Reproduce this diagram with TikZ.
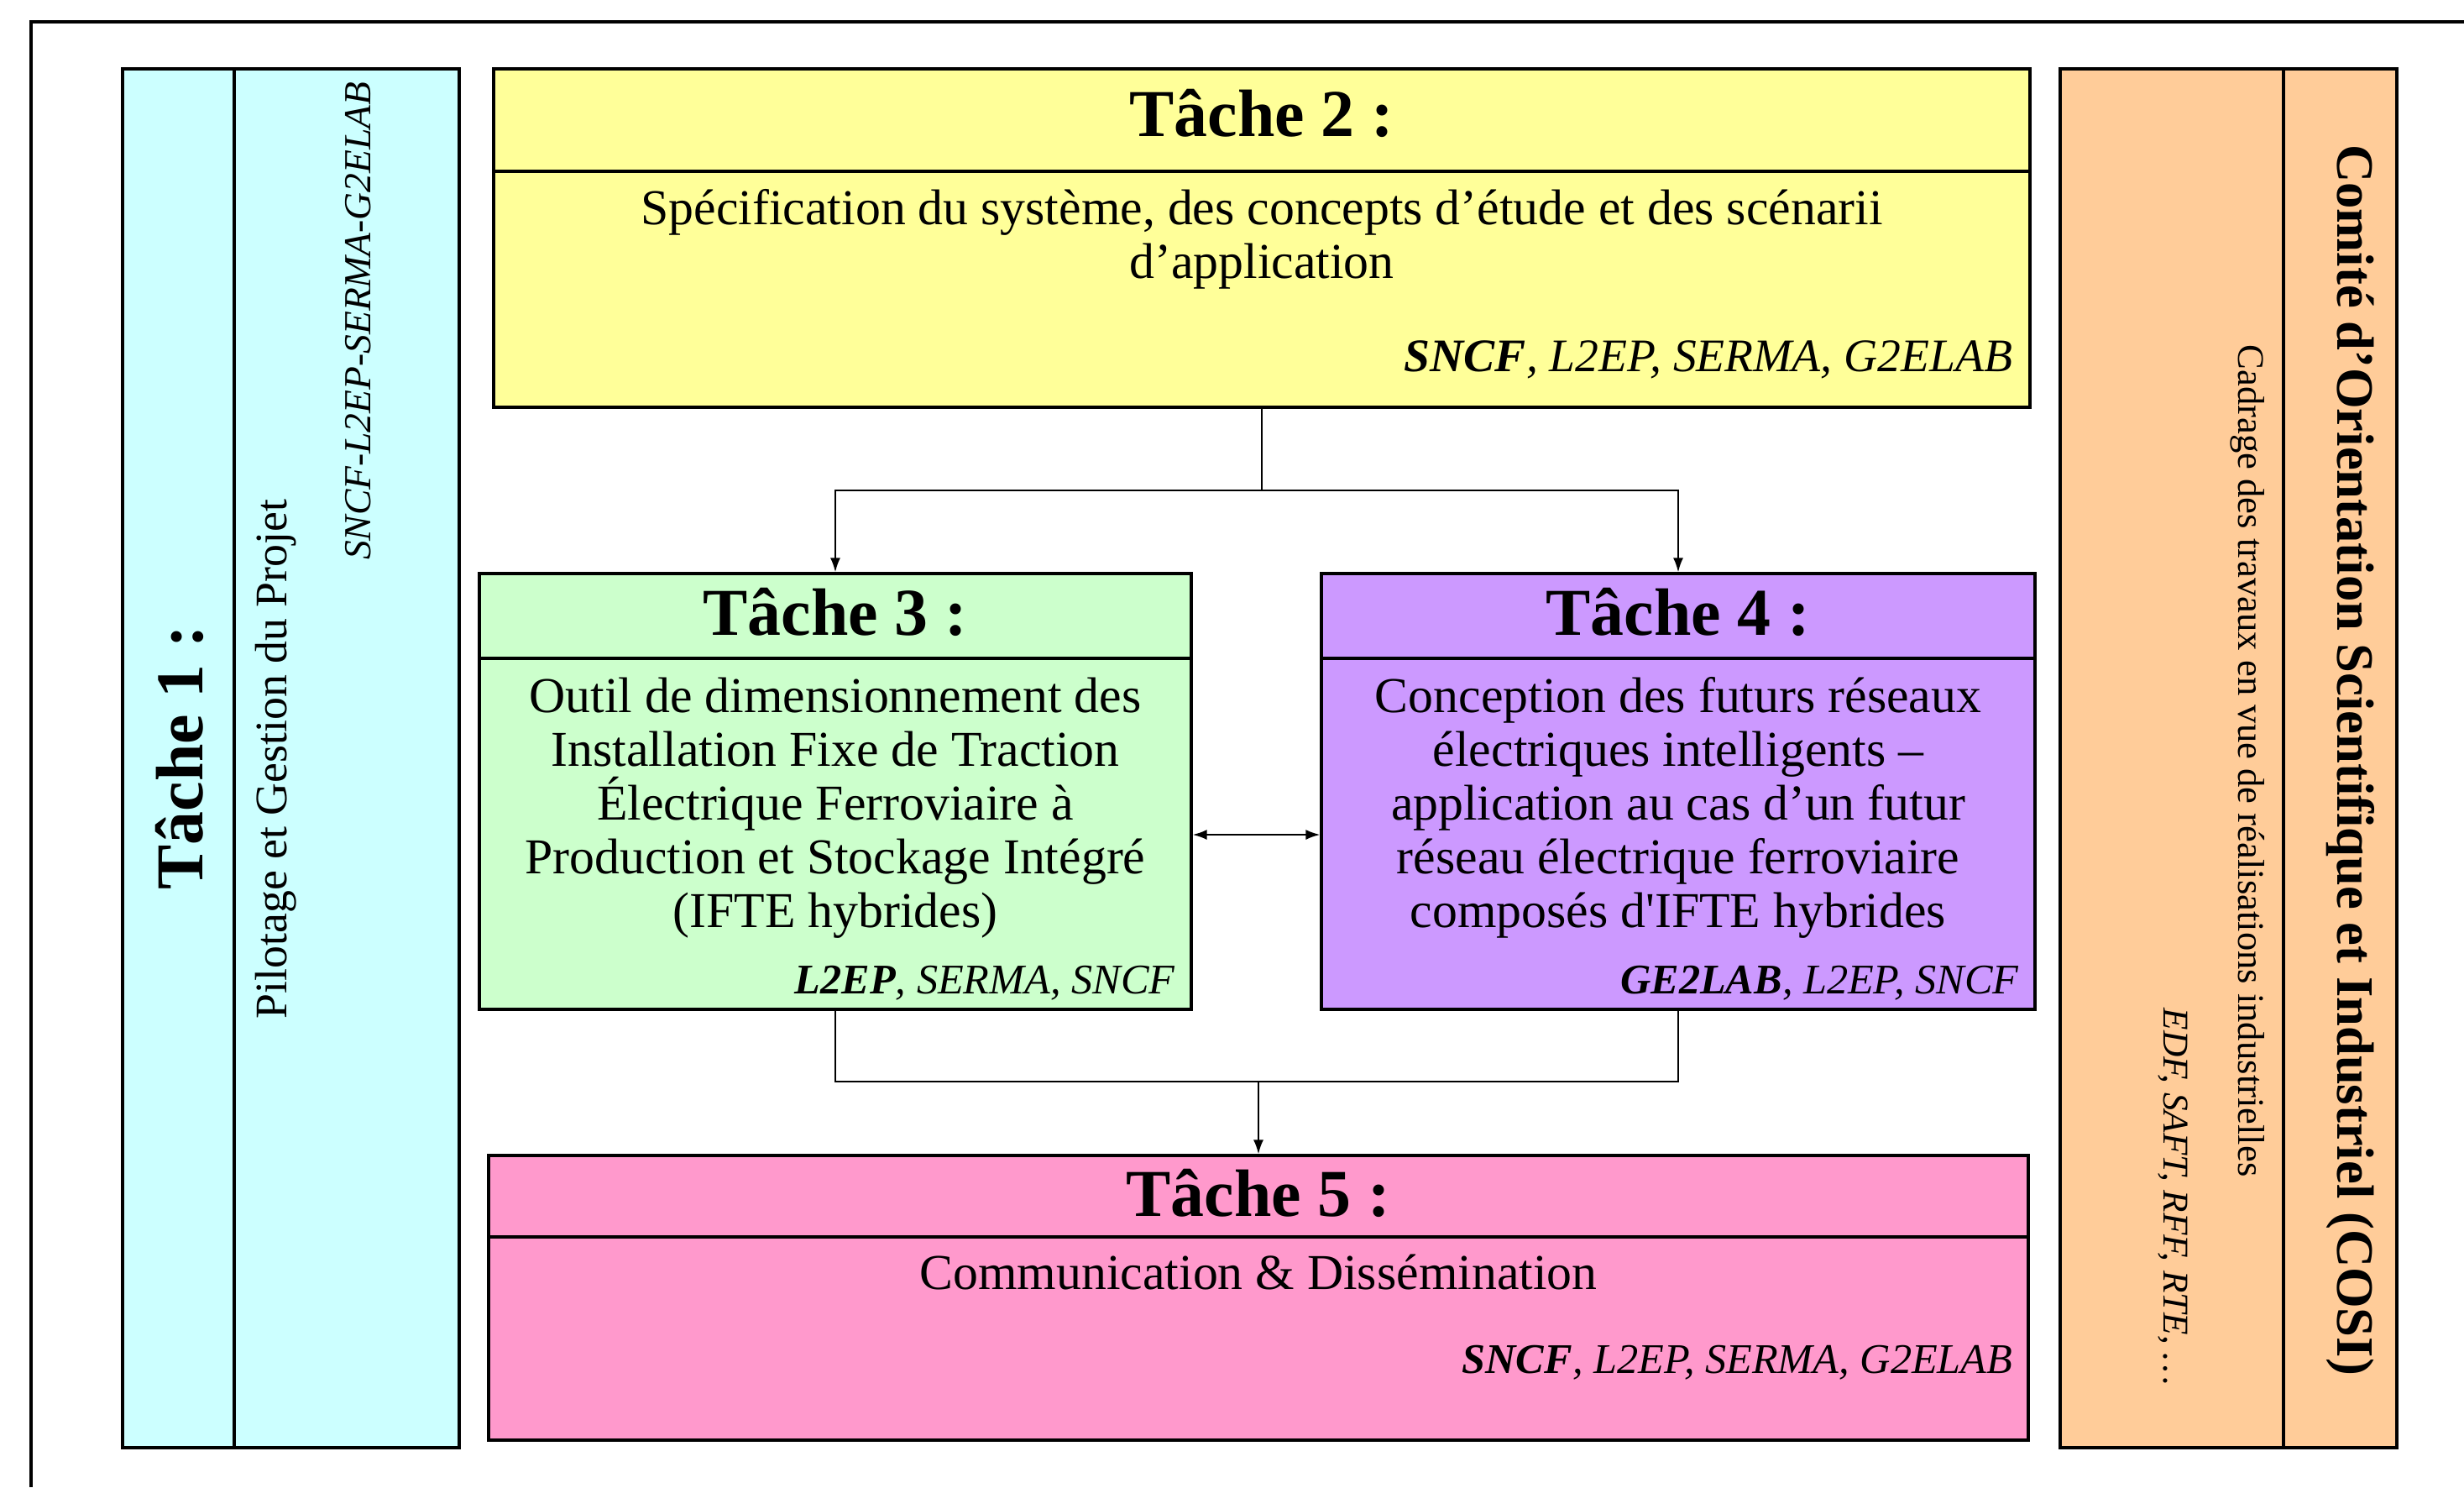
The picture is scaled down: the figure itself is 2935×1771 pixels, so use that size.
\documentclass[tikz,border=0pt]{standalone}
\usepackage{fontspec}
\setmainfont{Liberation Serif}[Ligatures=TeXOff]
\usetikzlibrary{fit,arrows.meta}
\definecolor{cOne}{HTML}{CCFFFF}
\definecolor{cTwo}{HTML}{FFFF99}
\definecolor{cThree}{HTML}{CCFFCC}
\definecolor{cFour}{HTML}{CC99FF}
\definecolor{cFive}{HTML}{FF99CC}
\definecolor{cCosi}{HTML}{FFCC99}
\newcommand\fTitle{\fontsize{22.7}{26}\selectfont\bfseries}
\newcommand\fBody{\fontsize{17}{18.2}\selectfont}
\newcommand\fPart{\fontsize{14.3}{17}\selectfont\itshape}
\newcommand\fPartBig{\fontsize{15.8}{18}\selectfont\itshape}
\begin{document}
\begin{tikzpicture}[x=0.01cm,y=-0.01cm,
  taskbox/.style={draw=black,line width=0.9pt,inner sep=0pt},
  divline/.style={draw=black,line width=0.9pt},
  conn/.style={draw=black,line width=0.6pt},
  arr/.style={-{Latex[length=0.17cm,width=0.12cm]}},
  darr/.style={{Latex[length=0.17cm,width=0.12cm]}-{Latex[length=0.17cm,width=0.12cm]}},
  ttl/.style={font=\fTitle,inner sep=0pt},
  bodytxt/.style={font=\fBody,align=center,inner sep=0pt},
  parttxt/.style={font=\fPart,inner sep=0pt,anchor=east}]
\useasboundingbox (0,0) rectangle (2935,1771);
\fill[white] (0,0) rectangle (2935,1771);
% outer frame (only top and left visible)
\draw[line width=1pt] (37,1771) -- (37,26) -- (2935,26);

% boxes
\node[taskbox,fill=cOne,fit={(146,82)(547,1724)}] (t1) {};
\node[taskbox,fill=cTwo,fit={(588,82)(2418,485)}] (t2) {};
\node[taskbox,fill=cThree,fit={(571,683)(1419,1202)}] (t3) {};
\node[taskbox,fill=cFour,fit={(1574,683)(2424,1202)}] (t4) {};
\node[taskbox,fill=cFive,fit={(582,1376)(2416,1715)}] (t5) {};
\node[taskbox,fill=cCosi,fit={(2454,82)(2855,1724)}] (cosi) {};

% dividers
\draw[divline] (279,82) -- (279,1724);
\draw[divline] (2720,82) -- (2720,1724);
\draw[divline] (t2.west |- 0,204) -- (t2.east |- 0,204);
\draw[divline] (t3.west |- 0,784) -- (t3.east |- 0,784);
\draw[divline] (t4.west |- 0,784) -- (t4.east |- 0,784);
\draw[divline] (t5.west |- 0,1473) -- (t5.east |- 0,1473);

% Task 1
\node[ttl,rotate=90] (t1title) at (214,902) {Tâche 1 :};
\node[font=\fontsize{15.3}{18}\selectfont,inner sep=0pt,rotate=90] (t1body) at (329,904) {Pilotage et Gestion du Projet};
\node[font=\fontsize{12.95}{15}\selectfont\itshape,inner sep=0pt,rotate=90,anchor=east] (t1part) at (427,97) {SNCF-L2EP-SERMA-G2ELAB};

% Task 2
\node[ttl] (t2title) at (1503,135) {Tâche 2 :};
\node[bodytxt] (t2body) at (1503,285) {Spécification du système, des concepts d’étude et des scénarii\\d’application};
\node[font=\fPartBig,inner sep=0pt,anchor=east] (t2part) at (2398,428) {\textbf{SNCF}, L2EP, SERMA, G2ELAB};

% Task 3
\node[ttl] (t3title) at (995,729) {Tâche 3 :};
\node[bodytxt] (t3body) at (995,962) {Outil de dimensionnement des\\Installation Fixe de Traction\\Électrique Ferroviaire à\\Production et Stockage Intégré\\(IFTE hybrides)};
\node[parttxt] (t3part) at (1400,1171) {\textbf{L2EP}, SERMA, SNCF};

% Task 4
\node[ttl] (t4title) at (1999,729) {Tâche 4 :};
\node[bodytxt] (t4body) at (1999,962) {Conception des futurs réseaux\\électriques intelligents –\\application au cas d’un futur\\réseau électrique ferroviaire\\composés d'IFTE hybrides};
\node[parttxt] (t4part) at (2405,1171) {\textbf{GE2LAB}, L2EP, SNCF};

% Task 5
\node[ttl] (t5title) at (1499,1421) {Tâche 5 :};
\node[bodytxt] (t5body) at (1499,1515) {Communication \& Dissémination};
\node[parttxt] (t5part) at (2398,1623) {\textbf{SNCF}, L2EP, SERMA, G2ELAB};

% COSI
\node[font=\fontsize{17.8}{21}\selectfont\bfseries,inner sep=0pt,rotate=-90] (cosititle) at (2800,905) {Comité d’Orientation Scientifique et Industriel (COSI)};
\node[font=\fontsize{12.7}{15}\selectfont,inner sep=0pt,rotate=-90] (cosibody) at (2677,906) {Cadrage des travaux en vue de réalisations industrielles};
\node[font=\fontsize{12.3}{14}\selectfont\itshape,inner sep=0pt,rotate=-90,anchor=east] (cosipart) at (2588,1651) {EDF, SAFT, RFF, RTE, …};

% connectors
\coordinate (jtop) at (t2.south |- 0,584);
\coordinate (jbot) at (t5.north |- 0,1288);
\draw[conn] (t2.south) -- (jtop);
\draw[conn,arr] (jtop) -| (t3.north);
\draw[conn,arr] (jtop) -| (t4.north);
\draw[conn] (t3.south) |- (jbot);
\draw[conn] (t4.south) |- (jbot);
\draw[conn,arr] (jbot) -- (t5.north);
\draw[conn,darr] (t3.east |- 0,994) -- (t4.west |- 0,994);
\end{tikzpicture}
\end{document}
